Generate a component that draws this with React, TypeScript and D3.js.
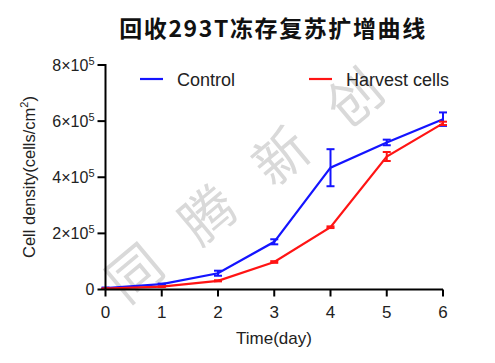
import React from "react";
import * as d3 from "d3";

const days = [0, 1, 2, 3, 4, 5, 6];
const controlMean = [0.05e5, 0.19e5, 0.58e5, 1.7e5, 4.34e5, 5.24e5, 6.07e5];
const controlErr = [0.02e5, 0.02e5, 0.09e5, 0.09e5, 0.66e5, 0.1e5, 0.24e5];
const harvestMean = [0.03e5, 0.1e5, 0.31e5, 0.98e5, 2.22e5, 4.74e5, 5.92e5];
const harvestErr = [0.01e5, 0.01e5, 0.02e5, 0.03e5, 0.03e5, 0.16e5, 0.06e5];
const xTicks = [0, 1, 2, 3, 4, 5, 6];
const yTicks = [0, 2e5, 4e5, 6e5, 8e5];
const yTickMantissa = ["0", "2", "4", "6", "8"];
const seriesNames = ["Control", "Harvest cells"];
const seriesColors = ["#1414ff", "#ff1414"];
const watermarkChars = ["同", "腾", "新", "创"];
const titleText = "回收293T冻存复苏扩增曲线";

const W = 495;
const H = 363;
const FONT = "'Liberation Sans', Arial, sans-serif";

export default function App() {
  const x = d3.scaleLinear().domain([0, 6]).range([105.5, 443]);
  const y = d3.scaleLinear().domain([0, 8e5]).range([289.5, 65]);
  const line = d3
    .line<number>()
    .x((_, i) => x(days[i]))
    .y((d) => y(d));

  const series = [
    { name: seriesNames[0], mean: controlMean, err: controlErr, color: seriesColors[0] },
    { name: seriesNames[1], mean: harvestMean, err: harvestErr, color: seriesColors[1] },
  ];

  const wmX = d3.scaleLinear().domain([0, 3]).range([132, 352]);
  const wmY = d3.scaleLinear().domain([0, 3]).range([270, 95]);

  return (
    <svg
      width={W}
      height={H}
      style={{ position: "fixed", left: 0, top: 0, background: "#fff" }}
    >
      <rect x={0} y={0} width={W} height={H} fill="#fff" />
      {/* watermark */}
      <g fill="#d9d9d9" fontFamily="'Noto Sans CJK SC', sans-serif" fontSize={54}>
        {watermarkChars.map((c, i) => (
          <text
            key={c}
            x={wmX(i)}
            y={wmY(i)}
            textAnchor="middle"
            dominantBaseline="central"
            transform={`rotate(-40 ${wmX(i)} ${wmY(i)})`}
          >
            {c}
          </text>
        ))}
      </g>

      {/* title */}
      <text
        x={273}
        y={37}
        textAnchor="middle"
        fontFamily="'Noto Sans CJK SC', sans-serif"
        fontWeight={600}
        fontSize={23}
        letterSpacing={1.6}
        fill="#111"
      >
        {titleText}
      </text>

      {/* series */}
      {series.map((s) => (
        <g key={s.name}>
          <path d={line(s.mean) || ""} fill="none" stroke={s.color} strokeWidth={2.2} />
          {s.mean.map((m, i) => {
            const cx = x(days[i]);
            const y1 = y(m + s.err[i]);
            const y2 = y(m - s.err[i]);
            return (
              <g key={i} stroke={s.color} strokeWidth={2}>
                <line x1={cx} x2={cx} y1={y1} y2={y2} />
                <line x1={cx - 4} x2={cx + 4} y1={y1} y2={y1} />
                <line x1={cx - 4} x2={cx + 4} y1={y2} y2={y2} />
              </g>
            );
          })}
        </g>
      ))}

      {/* axes */}
      <g stroke="#000" strokeWidth={2} fill="none">
        <line x1={x(0)} x2={x(6)} y1={y(0)} y2={y(0)} />
        <line x1={x(0)} x2={x(0)} y1={y(0)} y2={y(8e5) - 1} />
        {xTicks.map((t) => (
          <line key={t} x1={x(t)} x2={x(t)} y1={y(0)} y2={y(0) + 7} />
        ))}
        {yTicks.map((t) => (
          <line key={t} x1={x(0) - 8} x2={x(0)} y1={y(t)} y2={y(t)} />
        ))}
      </g>
      <g fontFamily={FONT} fontSize={17} fill="#222" textAnchor="middle">
        {xTicks.map((t) => (
          <text key={t} x={x(t)} y={y(0) + 28}>
            {t}
          </text>
        ))}
      </g>
      <g fontFamily={FONT} fontSize={16} fill="#222" textAnchor="end">
        {yTicks.map((t, i) => (
          <text key={t} x={x(0) - 11} y={y(t) + 5.5}>
            {i === 0 ? (
              "0"
            ) : (
              <>
                {yTickMantissa[i]}×10
                <tspan fontSize={11} dy={-6}>
                  5
                </tspan>
              </>
            )}
          </text>
        ))}
      </g>
      <text
        x={274}
        y={344}
        textAnchor="middle"
        fontFamily={FONT}
        fontSize={17}
        fill="#222"
      >
        Time(day)
      </text>
      <text
        transform={`translate(35 ${177}) rotate(-90)`}
        textAnchor="middle"
        fontFamily={FONT}
        fontSize={16.5}
        fill="#222"
      >
        Cell density(cells/cm
        <tspan fontSize={11} dy={-7}>
          2
        </tspan>
        <tspan dy={7}>)</tspan>
      </text>

      {/* legend */}
      {series.map((s, i) => {
        const lx = i === 0 ? 140 : 309;
        return (
          <g key={s.name}>
            <line x1={lx} x2={lx + 23} y1={79} y2={79} stroke={s.color} strokeWidth={2.2} />
            <text x={lx + 37} y={85.5} fontFamily={FONT} fontSize={18} fill="#222">
              {s.name}
            </text>
          </g>
        );
      })}
    </svg>
  );
}
